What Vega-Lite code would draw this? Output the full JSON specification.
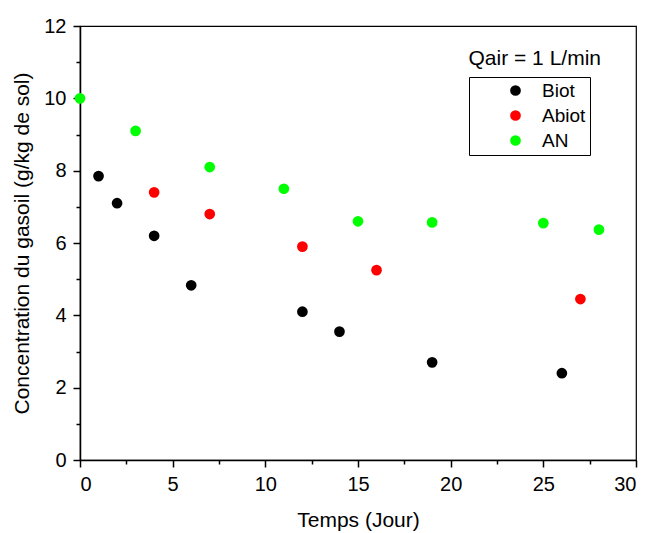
{
  "$schema": "https://vega.github.io/schema/vega-lite/v6.json",
  "width": 556,
  "height": 434,
  "autosize": {"type": "none"},
  "padding": {"left": 80, "top": 26, "right": 15, "bottom": 73},
  "background": "white",
  "title": {
    "text": "Qair = 1 L/min",
    "orient": "top",
    "anchor": "end",
    "frame": "group",
    "baseline": "alphabetic",
    "offset": 0,
    "dy": 70,
    "dx": -35,
    "font": "Liberation Sans",
    "fontSize": 21,
    "fontWeight": "normal",
    "color": "black"
  },
  "config": {
    "view": {"stroke": "black", "strokeWidth": 1.2},
    "font": "Liberation Sans",
    "axis": {
      "domainColor": "black",
      "domainWidth": 1.5,
      "tickColor": "black",
      "tickWidth": 1.5,
      "labelColor": "black",
      "labelFont": "Liberation Sans",
      "labelFontSize": 20,
      "titleFont": "Liberation Sans",
      "titleFontSize": 21,
      "titleFontWeight": "normal",
      "titleColor": "black",
      "grid": false
    }
  },
  "data": {
    "values": [
      {"temps": 1, "conc": 7.85, "serie": "Biot"},
      {"temps": 2, "conc": 7.1, "serie": "Biot"},
      {"temps": 4, "conc": 6.2, "serie": "Biot"},
      {"temps": 6, "conc": 4.83, "serie": "Biot"},
      {"temps": 12, "conc": 4.1, "serie": "Biot"},
      {"temps": 14, "conc": 3.55, "serie": "Biot"},
      {"temps": 19, "conc": 2.7, "serie": "Biot"},
      {"temps": 26, "conc": 2.4, "serie": "Biot"},
      {"temps": 4, "conc": 7.4, "serie": "Abiot"},
      {"temps": 7, "conc": 6.8, "serie": "Abiot"},
      {"temps": 12, "conc": 5.9, "serie": "Abiot"},
      {"temps": 16, "conc": 5.25, "serie": "Abiot"},
      {"temps": 27, "conc": 4.45, "serie": "Abiot"},
      {"temps": 0, "conc": 10.0, "serie": "AN"},
      {"temps": 3, "conc": 9.1, "serie": "AN"},
      {"temps": 7, "conc": 8.1, "serie": "AN"},
      {"temps": 11, "conc": 7.5, "serie": "AN"},
      {"temps": 15, "conc": 6.6, "serie": "AN"},
      {"temps": 19, "conc": 6.57, "serie": "AN"},
      {"temps": 25, "conc": 6.55, "serie": "AN"},
      {"temps": 28, "conc": 6.37, "serie": "AN"}
    ]
  },
  "mark": {"type": "point", "filled": true, "shape": "circle", "size": 115, "opacity": 1},
  "encoding": {
    "x": {
      "field": "temps",
      "type": "quantitative",
      "title": "Temps (Jour)",
      "scale": {"domain": [0, 30], "nice": false, "zero": false},
      "axis": {
        "values": [0, 2.5, 5, 7.5, 10, 12.5, 15, 17.5, 20, 22.5, 25, 27.5, 30],
        "labelExpr": "datum.value % 5 === 0 ? datum.label : ''",
        "tickSize": {"condition": {"test": "datum.value % 5 === 0", "value": 7}, "value": 4},
        "labelPadding": 7,
        "titlePadding": 15
      }
    },
    "y": {
      "field": "conc",
      "type": "quantitative",
      "title": "Concentration du gasoil (g/kg de sol)",
      "scale": {"domain": [0, 12], "nice": false, "zero": false},
      "axis": {
        "values": [0, 1, 2, 3, 4, 5, 6, 7, 8, 9, 10, 11, 12],
        "labelExpr": "datum.value % 2 === 0 ? datum.label : ''",
        "tickSize": {"condition": {"test": "datum.value % 2 === 0", "value": 7}, "value": 4},
        "labelPadding": 7,
        "titlePadding": 11
      }
    },
    "color": {
      "field": "serie",
      "type": "nominal",
      "scale": {"domain": ["Biot", "Abiot", "AN"], "range": ["#000000", "#ff0000", "#00ff00"]},
      "legend": {
        "title": null,
        "orient": "none",
        "legendX": 389,
        "legendY": 51,
        "strokeColor": "black",
        "fillColor": "white",
        "padding": 4,
        "symbolOffset": 33,
        "symbolType": "circle",
        "symbolSize": 115,
        "symbolStrokeWidth": 0,
        "labelFontSize": 19,
        "labelFont": "Liberation Sans",
        "labelColor": "black",
        "labelOffset": 17,
        "rowPadding": 5
      }
    }
  }
}
